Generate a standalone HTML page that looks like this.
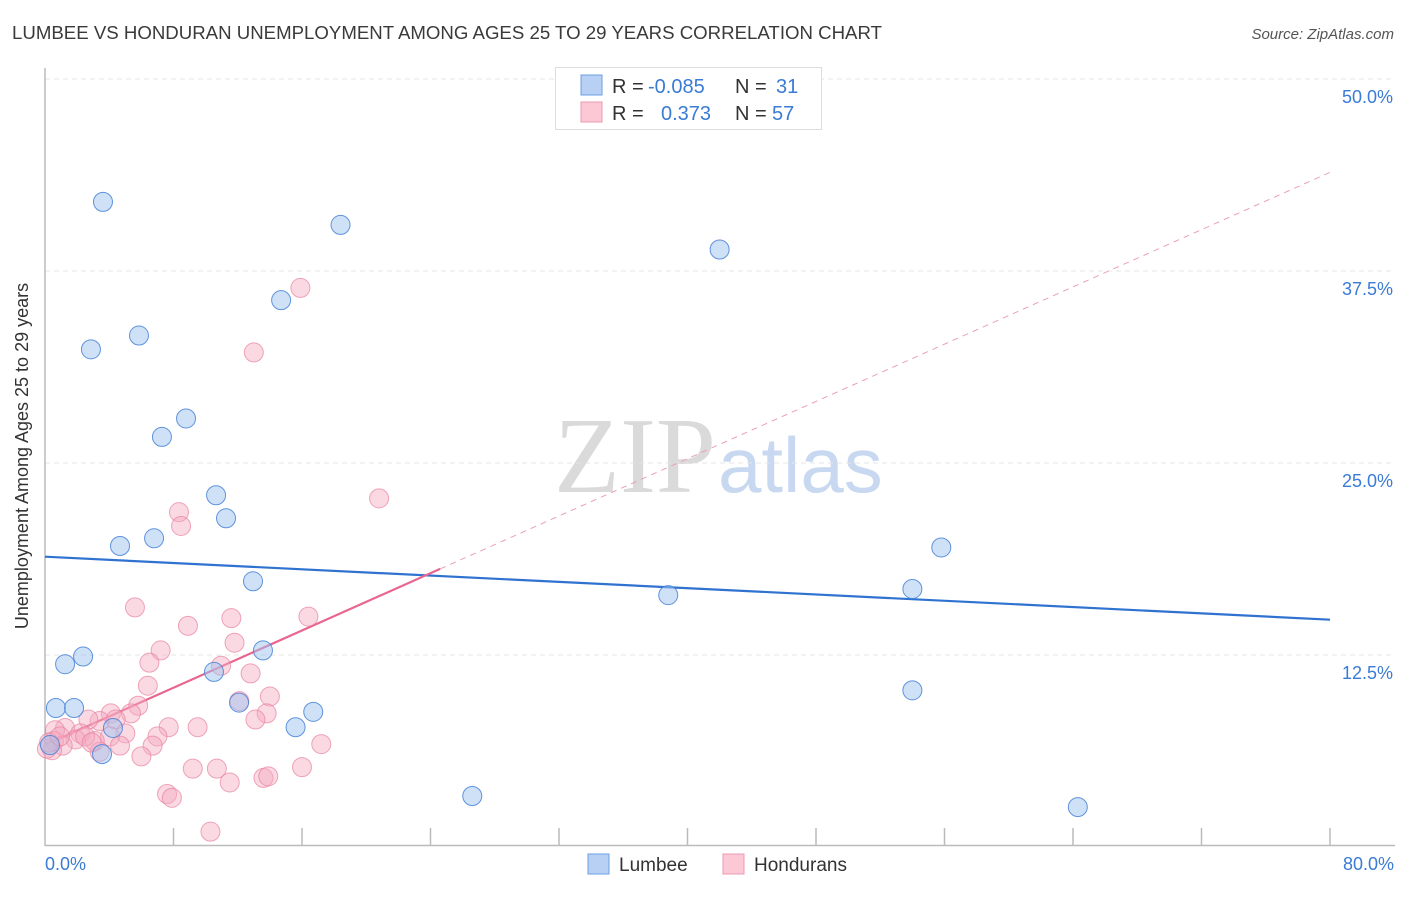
<!DOCTYPE html>
<html><head><meta charset="utf-8"><style>
body{margin:0;background:#fff;font-family:"Liberation Sans",sans-serif;}
</style></head><body>
<svg width="1406" height="892" xmlns="http://www.w3.org/2000/svg" font-family="Liberation Sans, sans-serif">
<text x="12" y="39" font-size="18" fill="#3a3a3a" textLength="870" lengthAdjust="spacingAndGlyphs">LUMBEE VS HONDURAN UNEMPLOYMENT AMONG AGES 25 TO 29 YEARS CORRELATION CHART</text>
<text x="1394" y="39" font-size="15" fill="#555" text-anchor="end" font-style="italic">Source: ZipAtlas.com</text>
<text x="716" y="492" font-size="108" fill="#dadada" font-family="Liberation Serif, serif" text-anchor="end">ZIP</text>
<text x="718" y="492" font-size="78" fill="#c8d8f0">atlas</text>
<g id="grid"></g>
<line x1="45" y1="68" x2="45" y2="846" stroke="#bbb" stroke-width="1.5"/>
<line x1="45" y1="845.5" x2="1395" y2="845.5" stroke="#bbb" stroke-width="1.5"/>
<g id="xticks"></g>
<g id="trend"></g>
<g id="points"></g>
<text x="28" y="456" font-size="18" fill="#333" text-anchor="middle" transform="rotate(-90 28 456)">Unemployment Among Ages 25 to 29 years</text>
<text x="45" y="870" font-size="18" fill="#3a7bd5">0.0%</text>
<text x="1394" y="870" font-size="18" fill="#3a7bd5" text-anchor="end">80.0%</text>
<g>
<rect x="555.5" y="67.5" width="266" height="62" fill="#fff" stroke="#ddd"/>
<rect x="581" y="75" width="21" height="20" fill="#b7d0f3" stroke="#6d9ee0"/>
<rect x="581" y="102" width="21" height="20" fill="#fcc8d6" stroke="#ee9ab3"/>
<text x="612" y="93" font-size="20" fill="#333">R = </text><text x="648" y="93" font-size="20" fill="#3a7bd5">-0.085</text>
<text x="735" y="93" font-size="20" fill="#333">N = </text><text x="776" y="93" font-size="20" fill="#3a7bd5">31</text>
<text x="612" y="120" font-size="20" fill="#333">R = </text><text x="661" y="120" font-size="20" fill="#3a7bd5">0.373</text>
<text x="735" y="120" font-size="20" fill="#333">N = </text><text x="772" y="120" font-size="20" fill="#3a7bd5">57</text>
</g>
<g>
<rect x="588" y="854" width="21" height="20" fill="#b7d0f3" stroke="#6d9ee0"/>
<text x="619" y="871" font-size="19" fill="#333">Lumbee</text>
<rect x="723" y="854" width="21" height="20" fill="#fcc8d6" stroke="#ee9ab3"/>
<text x="754" y="871" font-size="19" fill="#333">Hondurans</text>
</g>
</svg>
<script>
const yTicks=[12.5,25,37.5,50];
const yTickLabels=["12.5%","25.0%","37.5%","50.0%"];
const xTicks=[8,16,24,32,40,48,56,64,72,80];
const lumbeeX=[3.61,18.4,42.0,14.7,5.85,2.86,8.78,7.28,10.65,11.27,4.67,6.79,55.8,12.95,38.8,54.0,13.57,2.37,1.25,10.52,54.0,12.08,0.68,1.81,16.7,15.6,4.23,3.55,0.31,26.6,64.3];
const lumbeeY=[42.0,40.5,38.9,35.6,33.3,32.4,27.9,26.7,22.9,21.4,19.6,20.1,19.5,17.3,16.4,16.8,12.8,12.4,11.9,11.4,10.2,9.4,9.05,9.05,8.8,7.8,7.75,6.05,6.64,3.32,2.6];
const hondX=[15.9,13.0,20.8,8.34,8.47,5.6,16.4,11.6,8.9,11.8,7.2,6.5,10.96,12.8,6.4,12.1,14.0,5.8,4.1,5.35,13.8,13.1,3.4,4.4,9.5,7.7,2.7,1.25,0.62,2.2,5.0,7.0,1.9,4.05,3.1,0.56,1.1,4.67,6.7,17.2,6.0,3.4,0.44,0.12,9.2,10.7,16.0,13.6,13.9,11.5,7.6,7.9,10.3,0.25,2.5,0.93,2.9];
const hondY=[36.4,32.2,22.7,21.8,20.9,15.6,15.0,14.9,14.4,13.3,12.8,12.0,11.8,11.3,10.5,9.5,9.8,9.2,8.7,8.7,8.7,8.3,8.2,8.3,7.8,7.8,8.3,7.75,7.6,7.4,7.4,7.2,7.0,7.2,6.9,6.9,6.6,6.6,6.6,6.7,5.9,6.2,6.3,6.4,5.1,5.1,5.2,4.5,4.6,4.2,3.45,3.2,1.0,6.8,7.2,7.2,6.8];
const lumbeeTrend=[18.9,14.8];
const hondTrend=[6.64,0.466];
const hondSolidEnd=24.6;
const NS="http://www.w3.org/2000/svg";
const X=v=>45+v/80*1285, Y=v=>847-v/50*768;
function mk(tag,attrs,parent){const e=document.createElementNS(NS,tag);for(const k in attrs)e.setAttribute(k,attrs[k]);document.getElementById(parent).appendChild(e);return e;}
yTicks.forEach((t,i)=>{
 const l=mk('line',{x1:45,x2:1395,y1:Y(t),y2:Y(t),stroke:'#e4e4e4','stroke-dasharray':'5,4'},'grid');
 
 
 const tx=mk('text',{x:1393,y:Y(t)+24,'font-size':18,fill:'#3a7bd5','text-anchor':'end'},'grid');
 tx.textContent=yTickLabels[i];
 
 
});
xTicks.forEach(t=>{
 const l=mk('line',{x1:X(t),x2:X(t),y1:828,y2:845,stroke:'#bbb','stroke-width':1.5},'xticks');
 
 
});
let t1=mk('line',{x1:X(0),y1:Y(lumbeeTrend[0]),x2:X(80),y2:Y(lumbeeTrend[1]),stroke:'#2f72d0','stroke-width':2.2},'trend');


const hy=x=>hondTrend[0]+hondTrend[1]*x;
let t2=mk('line',{x1:X(0),y1:Y(hy(0)),x2:X(hondSolidEnd),y2:Y(hy(hondSolidEnd)),stroke:'#e8668f','stroke-width':2.2},'trend');


let t3=mk('line',{x1:X(hondSolidEnd),y1:Y(hy(hondSolidEnd)),x2:X(80),y2:Y(hy(80)),stroke:'#eaa0b6','stroke-width':1,'stroke-dasharray':'6,5'},'trend');


hondX.forEach((x,i)=>{
 const c=mk('circle',{cx:X(x),cy:Y(hondY[i]),r:9.5,fill:'rgba(245,170,192,0.45)',stroke:'rgba(232,130,160,0.7)','stroke-width':1},'points');
 
 
});
lumbeeX.forEach((x,i)=>{
 const c=mk('circle',{cx:X(x),cy:Y(lumbeeY[i]),r:9.5,fill:'rgba(160,195,240,0.5)',stroke:'rgba(70,130,215,0.85)','stroke-width':1},'points');
 
 
});
</script>
</body></html>
